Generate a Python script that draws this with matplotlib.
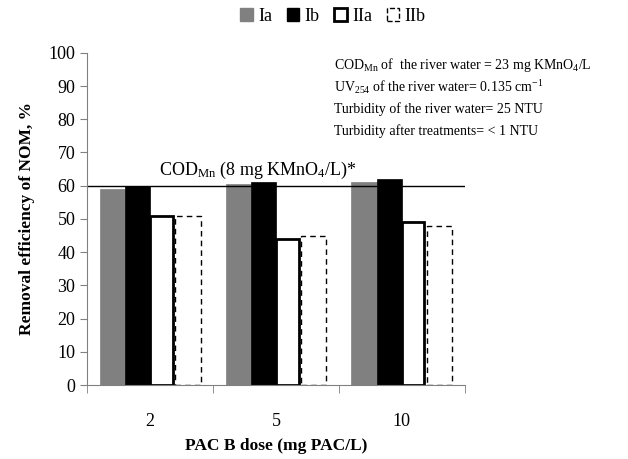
import numpy as np
import matplotlib
matplotlib.use('Agg')
import matplotlib.pyplot as plt
from matplotlib.patches import Patch

plt.rcParams['font.family'] = ['Liberation Serif', 'DejaVu Serif']
plt.rcParams['mathtext.fontset'] = 'custom'
plt.rcParams['mathtext.rm'] = 'Liberation Serif'
plt.rcParams['mathtext.it'] = 'Liberation Serif:italic'
plt.rcParams['mathtext.bf'] = 'Liberation Serif:bold'

doses = ['2', '5', '10']
series = ['Ia', 'Ib', 'IIa', 'IIb']
ia = [59, 60.5, 61]
ib = [60, 61, 62]
iia = [51, 44, 49]
iib = [51, 45, 48]
cod_limit = 60

fig = plt.figure(figsize=(6.28, 4.59), dpi=100)
ax = fig.add_axes([0.139, 0.161, 0.601, 0.724])

x = np.arange(len(doses))
w = 0.2
offs = [-1.5, -0.5, 0.5, 1.5]
ax.bar(x + offs[0] * w, ia, w, color='#808080', edgecolor='#808080', lw=0.5)
ax.bar(x + offs[1] * w, ib, w, color='black', edgecolor='black', lw=0.5)
ax.bar(x + offs[2] * w - 0.01, iia, w - 0.02, color='white', edgecolor='black', lw=2)
ax.bar(x + offs[3] * w, iib, w, color='white', edgecolor='black', lw=1, ls=(0, (4, 3)))

ax.axhline(cod_limit, color='black', lw=1)
ax.text(0.07, cod_limit + 1.5, r'COD$_{\mathrm{Mn}}$ (8 mg KMnO$_4$/L)*', fontsize=13, va='bottom')

ax.set_xlim(-0.5, 2.5)
ax.set_ylim(0, 100)
ax.set_yticks(range(0, 101, 10))
ax.set_xticks(x)
ax.set_xticklabels(doses)
ax.set_xticks([-0.5, 0.5, 1.5, 2.5], minor=True)
ax.tick_params(axis='x', which='major', length=0, pad=20, labelsize=13)
ax.tick_params(axis='x', which='minor', length=6, color='#808080', direction='out')
ax.tick_params(axis='y', length=5, color='#808080', labelsize=13)
for s in ['top', 'right']:
    ax.spines[s].set_visible(False)
for s in ['left', 'bottom']:
    ax.spines[s].set_color('#808080')

ax.set_ylabel('Removal efficiency of NOM, %', fontsize=12.5, fontweight='bold', labelpad=10)
ax.set_xlabel('PAC B dose (mg PAC/L)', fontsize=12.5, fontweight='bold', labelpad=6)

notes = [r'COD$_{\mathrm{Mn}}$ of  the river water = 23 mg KMnO$_4$/L',
         r'UV$_{254}$ of the river water= 0.135 cm$^{-1}$',
         'Turbidity of the river water= 25 NTU',
         'Turbidity after treatments= < 1 NTU']
for i, t in enumerate(notes):
    fig.text(0.532, 0.858 - i * 0.048, t, fontsize=10, va='center')

handles = [Patch(facecolor='#808080', edgecolor='#808080'),
           Patch(facecolor='black', edgecolor='black'),
           Patch(facecolor='white', edgecolor='black', lw=2),
           Patch(facecolor='white', edgecolor='black', lw=1, ls='--')]
fig.legend(handles, series, loc='center', bbox_to_anchor=(0.53, 0.965), ncol=4, frameon=False,
           fontsize=13, handlelength=0.7, handleheight=0.7, handletextpad=0.3, columnspacing=0.8)

fig.savefig('out.png', dpi=100)
